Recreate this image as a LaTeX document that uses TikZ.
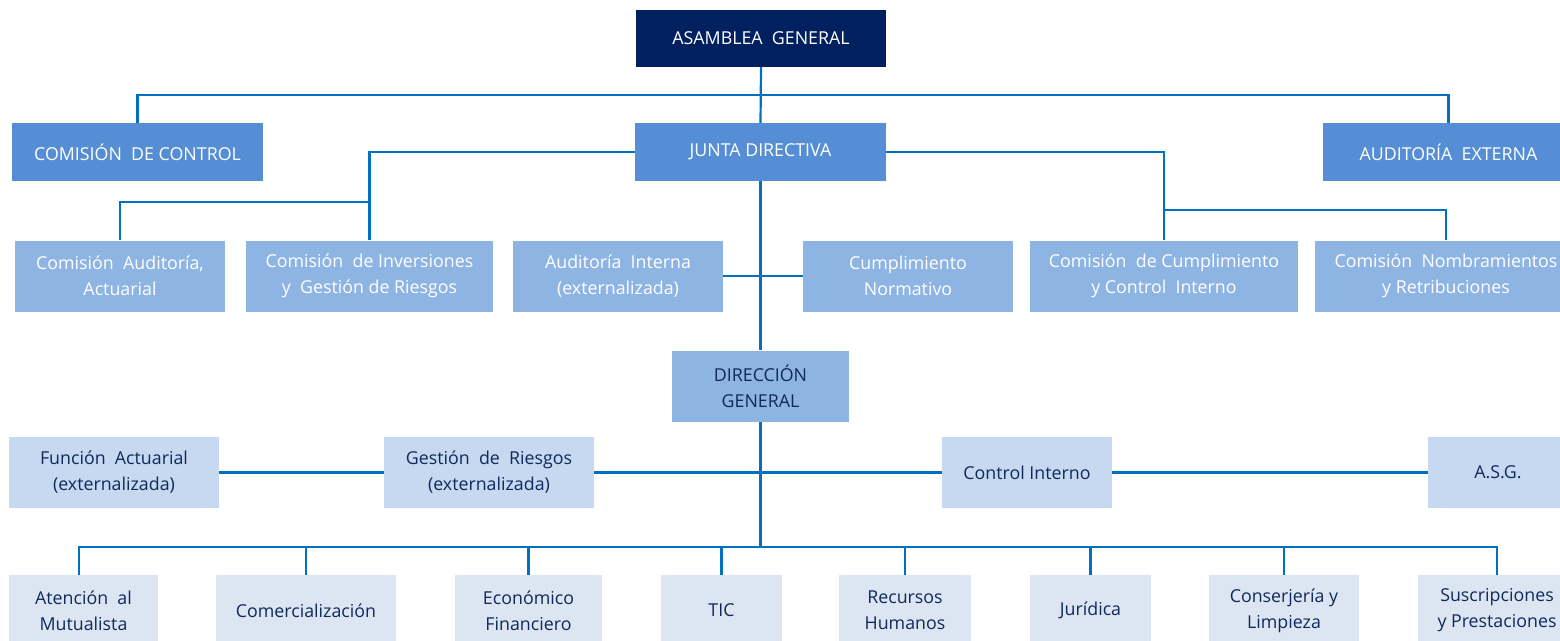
\documentclass[tikz,border=0pt]{standalone}
\usepackage{fontspec}
\setmainfont{Open Sans}
\definecolor{cnavy}{HTML}{002060}
\definecolor{cmid}{HTML}{558ED5}
\definecolor{clight}{HTML}{8EB4E3}
\definecolor{cpale}{HTML}{C6D9F1}
\definecolor{cpalest}{HTML}{DCE6F2}
\definecolor{cline}{HTML}{0070C0}
\definecolor{ctext}{HTML}{10295A}
\begin{document}
\begin{tikzpicture}[x=1pt,y=-1pt,
  bx/.style={rectangle, inner sep=0pt, align=center, draw=none,
    font=\fontsize{17.8}{26}\selectfont},
  topbox/.style={bx, fill=cnavy, text=white},
  midbox/.style={bx, fill=cmid, text=white},
  combox/.style={bx, fill=clight, text=white},
  dgbox/.style={bx, fill=clight, text=ctext},
  funbox/.style={bx, fill=cpale, text=ctext},
  depbox/.style={bx, fill=cpalest, text=ctext},
  conn/.style={draw=cline, line width=2.2pt}]
\useasboundingbox (0,0) rectangle (1560,640);
\clip (0,0) rectangle (1560,640);
\fill[white] (0,0) rectangle (1560,640);

% level 0-1
\node[topbox, minimum width=250, minimum height=57] (ag) at (761,38.5) {ASAMBLEA\ \ GENERAL};
\node[midbox, minimum width=251, minimum height=58] (cc) at (137.5,152) {COMISIÓN\ \ DE CONTROL};
\node[midbox, minimum width=251, minimum height=58] (jd) at (760.5,152) {JUNTA DIRECTIVA};
\node[midbox, minimum width=251, minimum height=58] (ae) at (1448.5,152) {AUDITORÍA\ \ EXTERNA};

% level 2
\node[combox, minimum width=210, minimum height=71] (ca) at (120,276) {Comisión\ \ Auditoría,\\Actuarial};
\node[combox, minimum width=247, minimum height=71] (ci) at (369.5,276) {Comisión\ \ de Inversiones\\y\ \ Gestión de Riesgos};
\node[combox, minimum width=210, minimum height=71] (ai) at (618,276) {Auditoría\ \ Interna\\(externalizada)};
\node[combox, minimum width=210, minimum height=71] (cnorm) at (908,276) {Cumplimiento\\Normativo};
\node[combox, minimum width=268, minimum height=71] (ccc) at (1164,276) {Comisión\ \ de Cumplimiento\\y Control\ \ Interno};
\node[combox, minimum width=262, minimum height=71] (cn) at (1446,276) {Comisión\ \ Nombramientos\\y Retribuciones};

% direccion
\node[dgbox, minimum width=177, minimum height=71] (dg) at (760.5,386) {DIRECCIÓN\\GENERAL};

% level 3
\node[funbox, minimum width=210, minimum height=71] (fa) at (114,472.5) {Función\ \ Actuarial\\(externalizada)};
\node[funbox, minimum width=210, minimum height=71] (gr) at (489,472.5) {Gestión\ \ de\ \ Riesgos\\(externalizada)};
\node[funbox, minimum width=170, minimum height=71] (cint) at (1027,472.5) {Control Interno};
\node[funbox, minimum width=140, minimum height=71] (asg) at (1498,472.5) {A.S.G.};

% level 4
\node[depbox, minimum width=149, minimum height=71] (at) at (83.5,610.5) {Atención\ \ al\\Mutualista};
\node[depbox, minimum width=180, minimum height=71] (com) at (306,610.5) {Comercialización};
\node[depbox, minimum width=147, minimum height=71] (eco) at (528.5,610.5) {Económico\\Financiero};
\node[depbox, minimum width=121, minimum height=71] (tic) at (721.5,610.5) {TIC};
\node[depbox, minimum width=132, minimum height=71] (rh) at (905,610.5) {Recursos\\Humanos};
\node[depbox, minimum width=121, minimum height=71] (jur) at (1090.5,610.5) {Jurídica};
\node[depbox, minimum width=150, minimum height=71] (cons) at (1284,610.5) {Conserjería y\\Limpieza};
\node[depbox, minimum width=158, minimum height=71] (sus) at (1497,610.5) {Suscripciones\\y Prestaciones};

% bus coordinates
\coordinate (ytop) at (0,95);
\coordinate (yjl) at (0,202);
\coordinate (yjr) at (0,210);
\coordinate (ybot) at (0,547);

% connectors
\draw[conn] (ag.south) -- (jd.north);
\draw[conn] (cc.north) |- (ytop -| ae.north) -- (ae.north);
\draw[conn] (jd.west) -| (ci.north);
\draw[conn] (ci.north |- yjl) -| (ca.north);
\draw[conn] (jd.east) -| (ccc.north);
\draw[conn] (ccc.north |- yjr) -| (cn.north);
\draw[conn] (jd.south) -- (dg.north);
\draw[conn] (ai.east) -- (cnorm.west);
\draw[conn] (fa.east) -- (gr.west);
\draw[conn] (gr.east) -- (cint.west);
\draw[conn] (cint.east) -- (asg.west);
\draw[conn] (dg.south) -- (dg.south |- ybot);
\draw[conn] ([xshift=-4.5]at.north) |- (sus.north |- ybot) -- (sus.north);
\foreach \n in {com,eco,tic,rh,jur,cons}
  \draw[conn] (\n.north) -- (\n.north |- ybot);
\end{tikzpicture}
\end{document}
